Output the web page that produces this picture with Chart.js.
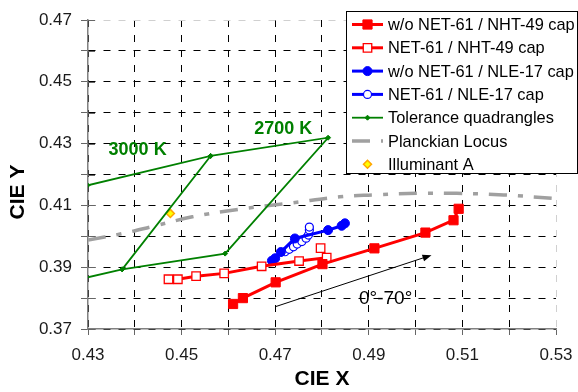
<!DOCTYPE html>
<html lang="en">
<head>
<meta charset="UTF-8">
<title>CIE chromaticity shift 0°-70°</title>
<script src="https://cdn.jsdelivr.net/npm/chart.js"></script>
<style>
  body { margin: 0; background: #fff; }
  canvas { display: block; }
</style>
</head>
<body>
<canvas id="cie" width="578" height="392"></canvas>
<script>
  // chromaticity points
  const nhtBareX = [0.4610, 0.4631, 0.4701, 0.4801, 0.4912, 0.5021, 0.5081, 0.5092];
  const nhtBareY = [0.3781, 0.3800, 0.3851, 0.3910, 0.3961, 0.4012, 0.4052, 0.4089];
  const nhtNetX = [0.4472, 0.4492, 0.4531, 0.4591, 0.4671, 0.4751, 0.4810, 0.4797];
  const nhtNetY = [0.3861, 0.3861, 0.3871, 0.3880, 0.3903, 0.3920, 0.3931, 0.3962];
  const nleBareX = [0.4693, 0.4700, 0.4712, 0.4742, 0.4813, 0.4842, 0.4849];
  const nleBareY = [0.3921, 0.3929, 0.3949, 0.3993, 0.4020, 0.4034, 0.4042];
  const nleNetX = [0.4721, 0.4730, 0.4739, 0.4747, 0.4757, 0.4766, 0.4771, 0.4773, 0.4773];
  const nleNetY = [0.3950, 0.3958, 0.3966, 0.3975, 0.3983, 0.3994, 0.4004, 0.4020, 0.4030];

  // 2700 K and 3000 K quadrangles, traced as one path
  const quadX = [0.4562, 0.4813, 0.4593, 0.4373, 0.4147, 0.4299, 0.4562, 0.4373];
  const quadY = [0.4260, 0.4319, 0.3944, 0.3893, 0.3814, 0.4165, 0.4260, 0.3893];

  const planckX = [0.4300, 0.4371, 0.4441, 0.4523, 0.4620, 0.4731, 0.4838, 0.4909, 0.5005, 0.5088, 0.5188, 0.5300];
  const planckY = [0.3988, 0.4008, 0.4033, 0.4063, 0.4087, 0.4107, 0.4128, 0.4134, 0.4139, 0.4139, 0.4134, 0.4122];

  const illumAX = [0.4476];
  const illumAY = [0.4074];

  const arrowX = [0.4700, 0.5034];
  const arrowY = [0.3772, 0.3939];

  const notes = ['3000 K', '2700 K', '0°-70°'];
  const noteX = [0.4406, 0.4717, 0.4936];
  const noteY = [0.4279, 0.4347, 0.3798];

  const xTitle = 'CIE X';
  const yTitle = 'CIE Y';
  const xMin = 0.43, xMax = 0.53, yMin = 0.37, yMax = 0.47;

  const FONT = "'Liberation Sans', Arial, sans-serif";
  const RED = '#ff0000', BLUE = '#0000ff', GREEN = '#008000';

  function pts(xs, ys) {
    return xs.map((x, i) => ({ x: x, y: ys[i] }));
  }

  const datasets = [
    {
      label: 'w/o NET-61 / NHT-49 cap',
      data: pts(nhtBareX, nhtBareY),
      showLine: true, borderColor: RED, backgroundColor: RED, borderWidth: 3,
      pointStyle: 'rect', pointRadius: 6.5, pointBorderWidth: 1,
      pointBackgroundColor: RED, pointBorderColor: RED
    },
    {
      label: 'NET-61 / NHT-49 cap',
      data: pts(nhtNetX, nhtNetY),
      showLine: true, borderColor: RED, backgroundColor: '#fff', borderWidth: 3,
      pointStyle: 'rect', pointRadius: 6, pointBorderWidth: 1.3,
      pointBackgroundColor: '#fff', pointBorderColor: RED
    },
    {
      label: 'w/o NET-61 / NLE-17 cap',
      data: pts(nleBareX, nleBareY),
      showLine: true, borderColor: BLUE, backgroundColor: BLUE, borderWidth: 3,
      pointStyle: 'circle', pointRadius: 4.5, pointBorderWidth: 1,
      pointBackgroundColor: BLUE, pointBorderColor: BLUE
    },
    {
      label: 'NET-61 / NLE-17 cap',
      data: pts(nleNetX, nleNetY),
      showLine: true, borderColor: BLUE, backgroundColor: '#fff', borderWidth: 3,
      pointStyle: 'circle', pointRadius: 4, pointBorderWidth: 1.2,
      pointBackgroundColor: '#fff', pointBorderColor: BLUE
    },
    {
      label: 'Tolerance quadrangles',
      data: pts(quadX, quadY),
      showLine: true, borderColor: GREEN, backgroundColor: GREEN, borderWidth: 1.8,
      pointStyle: 'rectRot', pointRadius: 2.5, pointBorderWidth: 1,
      pointBackgroundColor: GREEN, pointBorderColor: GREEN
    },
    {
      label: 'Planckian Locus',
      data: pts(planckX, planckY),
      showLine: true, borderColor: '#a0a0a0', borderWidth: 3.5,
      borderDash: [18, 11, 5, 11], tension: 0.4, pointRadius: 0
    },
    {
      label: 'Illuminant A',
      data: pts(illumAX, illumAY),
      showLine: false, pointStyle: 'rectRot', pointRadius: 4, pointBorderWidth: 1.5,
      pointBackgroundColor: '#ffff00', pointBorderColor: '#ffa500',
      backgroundColor: '#ffff00', borderColor: '#ffa500'
    }
  ];

  function oddLabel(v) {
    return Math.round(v * 100) % 2 === 1 ? v.toFixed(2) : '';
  }

  // arrow, notes, inner ticks, legend and y title
  const overlay = {
    id: 'overlay',
    afterDatasetsDraw(chart) {
      const ctx = chart.ctx;
      const xs = chart.scales.x, ys = chart.scales.y;
      const area = chart.chartArea;

      ctx.save();
      // y ticks crossing into the plot
      ctx.strokeStyle = '#666';
      ctx.lineWidth = 1;
      ys.ticks.forEach(t => {
        const py = Math.round(ys.getPixelForValue(t.value)) + 0.5;
        ctx.beginPath();
        ctx.moveTo(area.left, py);
        ctx.lineTo(area.left + 7, py);
        ctx.stroke();
      });

      // arrow
      const x1 = xs.getPixelForValue(arrowX[0]), y1 = ys.getPixelForValue(arrowY[0]);
      const x2 = xs.getPixelForValue(arrowX[1]), y2 = ys.getPixelForValue(arrowY[1]);
      const ang = Math.atan2(y2 - y1, x2 - x1);
      ctx.strokeStyle = '#000';
      ctx.fillStyle = '#000';
      ctx.lineWidth = 1;
      ctx.beginPath();
      ctx.moveTo(x1, y1);
      ctx.lineTo(x2 - 6 * Math.cos(ang), y2 - 6 * Math.sin(ang));
      ctx.stroke();
      ctx.beginPath();
      ctx.moveTo(x2, y2);
      ctx.lineTo(x2 - 9 * Math.cos(ang) + 3.5 * Math.sin(ang), y2 - 9 * Math.sin(ang) - 3.5 * Math.cos(ang));
      ctx.lineTo(x2 - 9 * Math.cos(ang) - 3.5 * Math.sin(ang), y2 - 9 * Math.sin(ang) + 3.5 * Math.cos(ang));
      ctx.closePath();
      ctx.fill();

      // notes
      ctx.textAlign = 'center';
      ctx.textBaseline = 'middle';
      notes.forEach((txt, i) => {
        const isTemp = i < 2;
        ctx.font = (isTemp ? 'bold 18px ' : '19px ') + FONT;
        ctx.fillStyle = isTemp ? GREEN : '#000';
        ctx.fillText(txt, xs.getPixelForValue(noteX[i]), ys.getPixelForValue(noteY[i]));
      });
      ctx.restore();
    },
    afterDraw(chart) {
      const ctx = chart.ctx;
      ctx.save();

      // y title
      ctx.translate(18, 192);
      ctx.rotate(-Math.PI / 2);
      ctx.font = 'bold 21px ' + FONT;
      ctx.fillStyle = '#000';
      ctx.textAlign = 'center';
      ctx.textBaseline = 'middle';
      ctx.fillText(yTitle, 0, 0);
      ctx.setTransform(1, 0, 0, 1, 0, 0);

      // legend box
      const lx = 346, ly = 11, lw = 232, lh = 163;
      ctx.fillStyle = '#fff';
      ctx.fillRect(lx, ly, lw, lh);
      ctx.strokeStyle = '#000';
      ctx.lineWidth = 1;
      ctx.strokeRect(lx + 0.5, ly + 0.5, lw - 1, lh - 1);

      chart.data.datasets.forEach((ds, i) => {
        const cy = 24.5 + i * 23.3;
        if (ds.showLine) {
          ctx.save();
          ctx.strokeStyle = ds.borderColor;
          ctx.lineWidth = ds.borderWidth;
          ctx.setLineDash(ds.borderDash || []);
          ctx.beginPath();
          ctx.moveTo(352, cy);
          ctx.lineTo(383, cy);
          ctx.stroke();
          ctx.restore();
        }
        if (ds.pointRadius > 0) {
          ctx.fillStyle = ds.pointBackgroundColor;
          ctx.strokeStyle = ds.pointBorderColor;
          ctx.lineWidth = ds.pointBorderWidth;
          Chart.helpers.drawPoint(ctx, {
            pointStyle: ds.pointStyle,
            radius: ds.pointRadius,
            rotation: 0,
            borderWidth: ds.pointBorderWidth
          }, 367.5, cy);
        }
        ctx.fillStyle = '#000';
        ctx.font = '16.4px ' + FONT;
        ctx.textAlign = 'left';
        ctx.textBaseline = 'middle';
        ctx.fillText(ds.label, 388, cy + 1);
      });
      ctx.restore();
    }
  };

  new Chart(document.getElementById('cie'), {
    type: 'scatter',
    data: { datasets: datasets },
    plugins: [overlay],
    options: {
      responsive: false,
      animation: false,
      events: [],
      layout: { padding: { top: 20, right: 22, left: 0, bottom: 0 } },
      plugins: {
        legend: { display: false },
        tooltip: { enabled: false }
      },
      scales: {
        x: {
          type: 'linear',
          min: xMin, max: xMax,
          afterFit: s => { s.height = 63; s.paddingLeft = 0; s.paddingRight = 0; },
          ticks: {
            stepSize: 0.01, autoSkip: false, maxRotation: 0, padding: 10,
            color: '#1a1a1a', font: { family: FONT, size: 17 },
            callback: oddLabel
          },
          grid: {
            color: c => (c.tick && Math.abs(c.tick.value - xMax) < 1e-6) ? '#d0d0d0' : '#000',
            lineWidth: 1, tickLength: 6, tickColor: '#666', tickBorderDash: []
          },
          border: { display: true, color: '#808080', width: 1.5, dash: [7, 8] },
          title: {
            display: true, text: xTitle, color: '#000',
            font: { family: FONT, size: 21, weight: 'bold' },
            padding: { top: 0, bottom: 0 }
          }
        },
        y: {
          type: 'linear',
          min: yMin, max: yMax,
          afterFit: s => { s.width = 88; s.paddingTop = 0; s.paddingBottom = 0; },
          ticks: {
            stepSize: 0.01, autoSkip: false, padding: 9,
            color: '#1a1a1a', font: { family: FONT, size: 17 },
            callback: oddLabel
          },
          grid: {
            color: c => (c.tick && Math.abs(c.tick.value - yMax) < 1e-6) ? '#d0d0d0' : '#000',
            lineWidth: 1, tickLength: 7, tickColor: '#666', tickBorderDash: []
          },
          border: { display: true, color: '#808080', width: 1.5, dash: [7, 8] }
        }
      }
    }
  });
</script>
</body>
</html>
